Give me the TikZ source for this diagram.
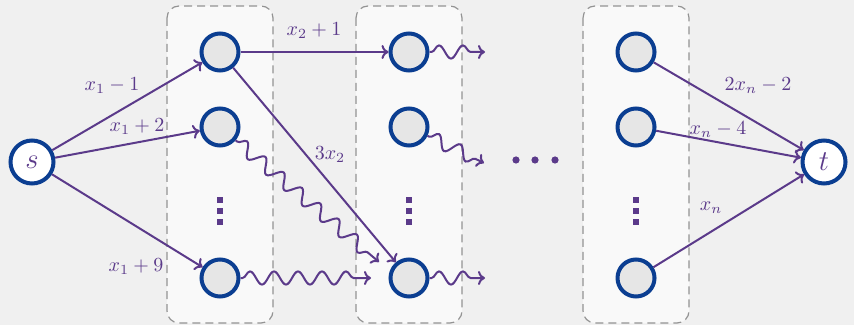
\documentclass[tikz,border=0pt]{standalone}
\usetikzlibrary{decorations.pathmorphing,arrows.meta}
\definecolor{bg}{HTML}{F0F0F0}
\definecolor{boxfill}{HTML}{F9F9F9}
\definecolor{edgec}{HTML}{5B3A8A}
\definecolor{nodeb}{HTML}{0B3E91}
\definecolor{nodef}{HTML}{E6E6E6}
\begin{document}
\begin{tikzpicture}[x=0.5pt,y=-0.5pt,
  term/.style={circle,draw=nodeb,fill=white,line width=2pt,minimum size=21.5pt,inner sep=0pt,font=\Large,text=edgec},
  inner/.style={circle,draw=nodeb,fill=nodef,line width=2pt,minimum size=18.5pt,inner sep=0pt},
  layer/.style={draw=gray!85,dash pattern=on 4pt off 2.5pt,fill=boxfill,rounded corners=6pt,line width=0.6pt},
  edge/.style={draw=edgec,line width=1pt,-{To[length=3.5pt,width=7pt]}},
  wavy/.style={draw=edgec,line width=1pt,-{To[length=3.5pt,width=7pt]},decorate,
    decoration={snake,amplitude=3.3pt,segment length=12pt,post length=3.5pt,pre length=1pt}},
  lab/.style={text=edgec,font=\normalsize,inner sep=0pt},
  vdot/.style={fill=edgec,minimum size=3pt,inner sep=0pt},
  hdot/.style={circle,fill=edgec,minimum size=3.6pt,inner sep=0pt}]
\fill[bg] (0,0) rectangle (854,325);
\useasboundingbox (0,0) rectangle (854,325);
% layer boxes
\path[layer] (167,6) rectangle (273,323);
\path[layer] (356,6) rectangle (462,323);
\path[layer] (583,6) rectangle (689,323);
% terminals
\node[term] (s) at (32,162) {$s$};
\node[term] (t) at (824,162) {$t$};
% layer 1
\node[inner] (a1) at (220,52) {};
\node[inner] (a2) at (220,127) {};
\node[inner] (a4) at (220,278) {};
% layer 2
\node[inner] (b1) at (409,52) {};
\node[inner] (b2) at (409,127) {};
\node[inner] (b4) at (409,278) {};
% layer n
\node[inner] (n1) at (636,52) {};
\node[inner] (n2) at (636,127) {};
\node[inner] (n4) at (636,278) {};
% vertical dots
\foreach \xx/\nm in {220/a,409/b,636/n}{
  \node[vdot] (\nm d1) at (\xx,200) {};
  \node[vdot] (\nm d2) at (\xx,211) {};
  \node[vdot] (\nm d3) at (\xx,222) {};
}
% horizontal dots
\node[hdot] (h1) at (516,160) {};
\node[hdot] (h2) at (535,160) {};
\node[hdot] (h3) at (555,160) {};
% free ends
\coordinate (w1) at (379,262);
\coordinate (w2) at (371,278);
\coordinate (w3) at (485,52);
\coordinate (w4) at (484,163);
\coordinate (w5) at (485,278);
% edges
\draw[edge] (s) -- (a1);
\draw[edge] (s) -- (a2);
\draw[edge] (s) -- (a4);
\draw[edge] (a1) -- (b1);
\draw[edge] (a1) -- (b4);
\draw[edge] (n1) -- (t);
\draw[edge] (n2) -- (t);
\draw[edge] (n4) -- (t);
\draw[wavy] (a2) -- (w1);
\draw[wavy] (a4) -- (w2);
\draw[wavy] (b1) -- (w3);
\draw[wavy] (b2) -- (w4);
\draw[wavy] (b4) -- (w5);
% labels
\node[lab] (l1) at (112,86) {$x_1-1$};
\node[lab] (l2) at (137,127) {$x_1+2$};
\node[lab] (l3) at (136,267) {$x_1+9$};
\node[lab] (l4) at (314,31) {$x_2+1$};
\node[lab] (l5) at (330,155) {$3x_2$};
\node[lab] (l6) at (758,86) {$2x_n-2$};
\node[lab] (l7) at (718,130) {$x_n-4$};
\node[lab] (l8) at (711,208) {$x_n$};
\end{tikzpicture}
\end{document}
